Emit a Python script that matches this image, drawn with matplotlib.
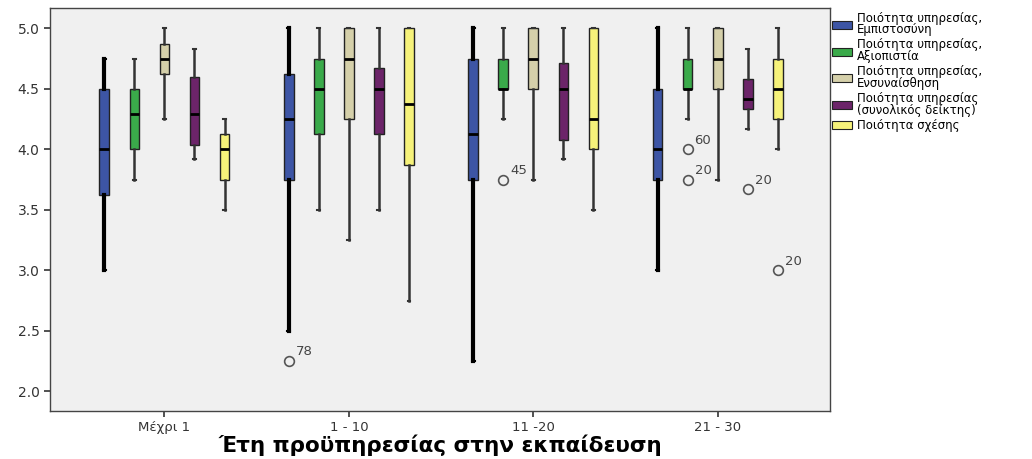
import matplotlib
matplotlib.use("Agg")
import matplotlib.pyplot as plt
from matplotlib.patches import Patch

plt.rcParams["font.family"] = ["DejaVu Sans"]

groups = ["Μέχρι 1", "1 - 10", "11 -20", "21 - 30"]
series = [
    "Ποιότητα υπηρεσίας,\nΕμπιστοσύνη",
    "Ποιότητα υπηρεσίας,\nΑξιοπιστία",
    "Ποιότητα υπηρεσίας,\nΕνσυναίσθηση",
    "Ποιότητα υπηρεσίας\n(συνολικός δείκτης)",
    "Ποιότητα σχέσης",
]
colors = ["#3d55a5", "#3aaa4a", "#d5d0aa", "#6c2469", "#f6f27a"]

# box stats per series, one value per group (whisker low, Q1, median, Q3, whisker high)
whislo = [
    [3.0, 2.5, 2.25, 3.0],
    [3.75, 3.5, 4.25, 4.25],
    [4.25, 3.25, 3.75, 3.75],
    [3.92, 3.5, 3.92, 4.17],
    [3.5, 2.75, 3.5, 4.0],
]
q1 = [
    [3.625, 3.75, 3.75, 3.75],
    [4.0, 4.125, 4.5, 4.5],
    [4.625, 4.25, 4.5, 4.5],
    [4.04, 4.125, 4.08, 4.33],
    [3.75, 3.875, 4.0, 4.25],
]
med = [
    [4.0, 4.25, 4.125, 4.0],
    [4.29, 4.5, 4.5, 4.5],
    [4.75, 4.75, 4.75, 4.75],
    [4.29, 4.5, 4.5, 4.42],
    [4.0, 4.375, 4.25, 4.5],
]
q3 = [
    [4.5, 4.625, 4.75, 4.5],
    [4.5, 4.75, 4.75, 4.75],
    [4.875, 5.0, 5.0, 5.0],
    [4.6, 4.67, 4.71, 4.58],
    [4.125, 5.0, 5.0, 4.75],
]
whishi = [
    [4.75, 5.0, 5.0, 5.0],
    [4.75, 5.0, 5.0, 5.0],
    [5.0, 5.0, 5.0, 5.0],
    [4.83, 5.0, 5.0, 4.83],
    [4.25, 5.0, 5.0, 5.0],
]

# outliers: (group index, series index, value, case label)
outliers = [
    (1, 0, 2.25, "78"),
    (2, 1, 3.75, "45"),
    (3, 1, 4.0, "60"),
    (3, 1, 3.75, "20"),
    (3, 3, 3.67, "20"),
    (3, 4, 3.0, "20"),
]

fig = plt.figure(figsize=(10.32, 4.59), dpi=100)
ax = fig.add_axes([0.0485, 0.105, 0.756, 0.878])
ax.set_facecolor("#f0f0f0")

step = 0.163
width = 0.052

for s in range(len(series)):
    stats = []
    pos = []
    for g in range(len(groups)):
        stats.append({
            "whislo": whislo[s][g], "q1": q1[s][g], "med": med[s][g],
            "q3": q3[s][g], "whishi": whishi[s][g], "fliers": [],
        })
        pos.append(g + (s - 2) * step)
    wlw = 3.0 if s == 0 else 1.8
    wcol = "black" if s == 0 else "#333333"
    ax.bxp(stats, positions=pos, widths=width, patch_artist=True,
           showfliers=False, capwidths=width * 0.3,
           boxprops=dict(facecolor=colors[s], edgecolor="#222222", linewidth=1.0),
           medianprops=dict(color="black", linewidth=2.0),
           whiskerprops=dict(color=wcol, linewidth=wlw),
           capprops=dict(color=wcol, linewidth=1.5),
           zorder=3)

for g, s, v, lab in outliers:
    x = g + (s - 2) * step
    ax.plot([x], [v], marker="o", markersize=7, markerfacecolor="none",
            markeredgecolor="#555555", markeredgewidth=1.2, linestyle="none", zorder=4)
    ax.annotate(lab, (x, v), xytext=(5, 2), textcoords="offset points",
                fontsize=9.5, color="#444444", ha="left", va="bottom")

ax.set_xlim(-0.62, 3.61)
ax.set_ylim(1.84, 5.17)
ax.set_yticks([2.0, 2.5, 3.0, 3.5, 4.0, 4.5, 5.0])
ax.set_yticklabels(["2.0", "2.5", "3.0", "3.5", "4.0", "4.5", "5.0"])
ax.set_xticks(range(len(groups)))
ax.set_xticklabels(groups)
ax.tick_params(axis="y", labelsize=10, colors="#333333", length=4, width=1.2)
ax.tick_params(axis="x", labelsize=9.5, colors="#333333", length=4, width=1.2)
for sp in ax.spines.values():
    sp.set_color("#444444")
    sp.set_linewidth(1.0)

ax.set_xlabel("Έτη προϋπηρεσίας στην εκπαίδευση", fontsize=15.5, fontweight="bold",
              labelpad=0)

handles = [Patch(facecolor=c, edgecolor="#222222", linewidth=0.8) for c in colors]
leg = fig.legend(handles, series, loc="upper left", bbox_to_anchor=(0.802, 0.985),
                 frameon=False, fontsize=8.5, handlelength=1.7, handleheight=0.65,
                 handletextpad=0.4, labelspacing=0.2, borderaxespad=0.0)
for t in leg.get_texts():
    t.set_linespacing(0.85)

fig.savefig("out.png", dpi=100, facecolor="white")
